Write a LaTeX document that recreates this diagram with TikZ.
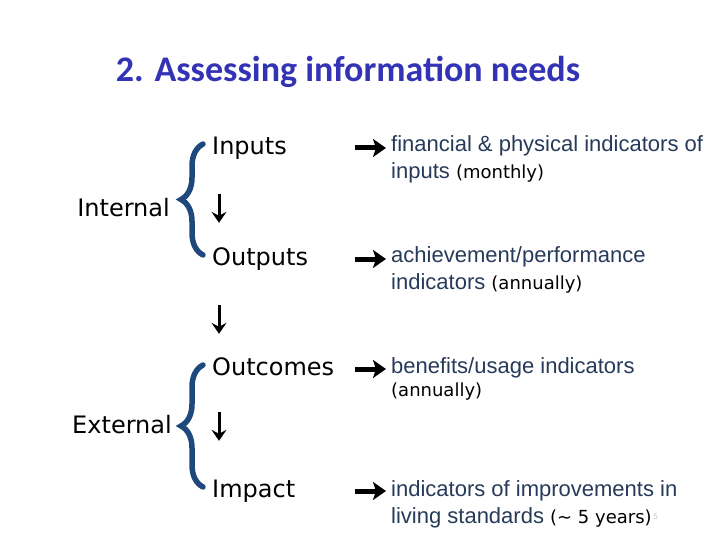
\documentclass[tikz,border=0pt]{standalone}
\usepackage{fontspec}
\setmainfont{DejaVu Sans}
\newfontfamily\titlefont{Carlito}
\newfontfamily\infofont{Liberation Sans}
\usetikzlibrary{arrows.meta,decorations.pathreplacing,calc}

\definecolor{titleblue}{RGB}{51,51,181}
\definecolor{bracecol}{RGB}{31,73,125}
\definecolor{infocol}{RGB}{38,58,90}

\newcommand{\when}[1]{{\rmfamily\fontsize{18}{22}\selectfont\color{black}#1}}

\tikzset{
  title/.style = {anchor=base, inner sep=0pt, text=titleblue, font=\titlefont\bfseries\fontsize{36}{40}\selectfont},
  stage/.style = {anchor=west, inner sep=0pt, text width=143pt, align=left, text height=18pt, text depth=5pt, font=\fontsize{24}{28}\selectfont},
  side/.style = {anchor=east, inner sep=0pt, text height=18pt, text depth=5pt, font=\fontsize{24}{28}\selectfont},
  info/.style = {anchor=north west, inner sep=0pt, align=left, text=infocol, font=\infofont\fontsize{22}{27}\selectfont},
  pgnum/.style = {anchor=west, inner sep=0pt, text=gray!45, font=\fontsize{8}{9}\selectfont},
  darr/.style = {line width=3pt, -{Stealth[length=11pt,width=15pt,inset=4pt]}},
  rarr/.style = {line width=5pt, shorten >=5pt, -{Stealth[length=13pt,width=18pt,inset=3pt]}},
  brc/.style = {bracecol, line width=5.5pt, line cap=round, decorate, decoration={brace, amplitude=22pt}}
}

\begin{document}
\begin{tikzpicture}[x=1pt, y=1pt]
\useasboundingbox (0,0) rectangle (720,-540);

\node[title] (ttl) at (348,-82) {2. Assessing information needs};

% stages
\node[stage] (s1) at (212,-148) {Inputs};
\node[stage] (s2) at (212,-259) {Outputs};
\node[stage] (s3) at (212,-369) {Outcomes};
\node[stage] (s4) at (212,-491) {Impact};

% indicators
\node[info] (i1) at (391,-135) {financial \& physical indicators of\\ inputs \when{(monthly)}};
\node[info] (i2) at (391,-246) {achievement/performance\\ indicators \when{(annually)}};
\node[info] (i3) at (391,-357) {benefits/usage indicators\\[-4pt] \when{(annually)}};
\node[info] (i4) at (391,-480) {indicators of improvements in\\ living standards \when{(\textasciitilde{} 5 years)}};
\node[pgnum] (pg) at (653,-517) {5};

% groups
\node[side] (int) at ($(s1.west)!0.5!(s2.west)+(-42,-6.5)$) {Internal};
\node[side] (ext) at ($(s3.west)!0.5!(s4.west)+(-40,3)$) {External};
\draw[brc] ([xshift=-9pt,yshift=4pt]s2.west) -- ([xshift=-9pt,yshift=4pt]s1.west);
\draw[brc] ([xshift=-9pt,yshift=4pt]s4.west) -- ([xshift=-9pt,yshift=4pt]s3.west);

% flow
\draw[darr, shorten <=34.5pt, shorten >=24.5pt] ([xshift=7pt]s1.south west) -- ([xshift=7pt]s2.north west);
\draw[darr, shorten <=34.5pt, shorten >=23.5pt] ([xshift=7pt]s2.south west) -- ([xshift=7pt]s3.north west);
\draw[darr, shorten <=31.5pt, shorten >=38.5pt] ([xshift=7pt]s3.south west) -- ([xshift=7pt]s4.north west);

\draw[rarr] (s1.east) -- (s1.east -| i1.west);
\draw[rarr] (s2.east) -- (s2.east -| i2.west);
\draw[rarr] (s3.east) -- (s3.east -| i3.west);
\draw[rarr] (s4.east) -- (s4.east -| i4.west);
\end{tikzpicture}
\end{document}
